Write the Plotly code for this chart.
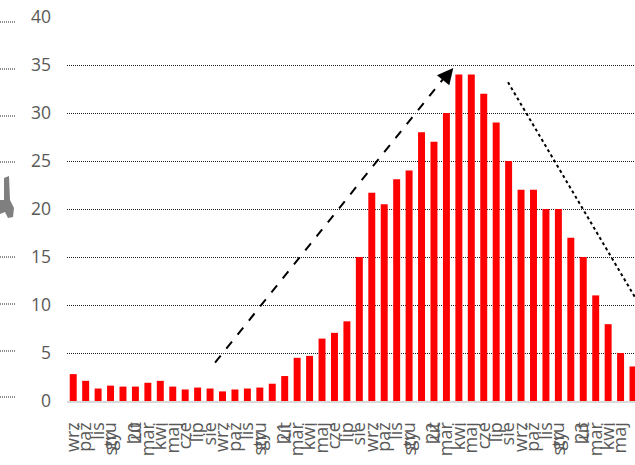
import plotly.graph_objects as go

months = ["wrz", "paź", "lis", "gru", "sty\u00a0\u00a0<br>20", "lut", "mar", "kwi", "maj", "cze", "lip", "sie",
          "wrz", "paź", "lis", "gru", "sty\u00a0\u00a0<br>21", "lut", "mar", "kwi", "maj", "cze", "lip", "sie",
          "wrz", "paź", "lis", "gru", "sty\u00a0\u00a0<br>22", "lut", "mar", "kwi", "maj", "cze", "lip", "sie",
          "wrz", "paź", "lis", "gru", "sty\u00a0\u00a0<br>23", "lut", "mar", "kwi", "maj", "cze"]
values = [2.8, 2.1, 1.3, 1.6, 1.5, 1.5, 1.9, 2.1, 1.5, 1.2, 1.4, 1.3,
          1.0, 1.2, 1.3, 1.4, 1.8, 2.6, 4.5, 4.7, 6.5, 7.1, 8.3, 15.0,
          21.7, 20.5, 23.1, 24.0, 28.0, 27.0, 30.0, 34.0, 34.0, 32.0, 29.0, 25.0,
          22.0, 22.0, 20.0, 20.0, 17.0, 15.0, 11.0, 8.0, 5.0, 3.6]
y_ticks = [0, 5, 10, 15, 20, 25, 30, 35, 40]
title_text = "Dynamika cen w gospodarce ogółem, wzrost r/r (%)"

W, H = 635, 465
ML, MR, MT, MB = 67, 0, 17, 64
PW, PH = W - ML - MR, H - MT - MB
n = len(values)
xs = list(range(n))

fig = go.Figure()
fig.add_trace(go.Bar(x=xs, y=values, marker=dict(color="#ff0000", line=dict(width=0)),
                     width=0.56, hoverinfo="skip"))

def px2x(px):
    return (px - ML) / PW

def py2y(py):
    return 1 - (py - MT) / PH

shapes = []
# rising trend (dashed)
shapes.append(dict(type="line", xref="x", yref="y", x0=11.4, y0=4.0, x1=30.2, y1=34.3,
                   line=dict(color="black", width=2, dash="dash")))
# falling trend (dotted)
shapes.append(dict(type="line", xref="x", yref="y", x0=34.95, y0=33.2, x1=45.3, y1=10.5,
                   line=dict(color="black", width=2, dash="dot")))
# neighbouring chart fragments on the left
for py in [22, 69, 116, 162, 257, 304, 351, 397]:
    shapes.append(dict(type="line", xref="paper", yref="paper", x0=px2x(0), x1=px2x(15),
                       y0=py2y(py), y1=py2y(py), line=dict(color="#222", width=1, dash="1px,1px")))
shapes.append(dict(type="path", xref="paper", yref="paper", fillcolor="#7f7f7f", line=dict(width=0),
                   path=" ".join([
                       f"M {px2x(4)} {py2y(178)}", f"L {px2x(9)} {py2y(176)}", f"L {px2x(10)} {py2y(200)}",
                       f"L {px2x(14)} {py2y(208)}", f"L {px2x(13)} {py2y(217)}", f"L {px2x(8)} {py2y(218)}",
                       f"L {px2x(5)} {py2y(212)}", f"L {px2x(0)} {py2y(214)}", f"L {px2x(0)} {py2y(200)}",
                       f"L {px2x(4)} {py2y(200)} Z"])))

annotations = [
    dict(x=30.55, y=34.7, xref="x", yref="y", ax=-9, ay=11, axref="pixel", ayref="pixel",
         text="", showarrow=True, arrowhead=2, arrowsize=1.6, arrowwidth=2, arrowcolor="black"),
    dict(x=px2x(-8), y=py2y(-2), xref="paper", yref="paper", xanchor="left", yanchor="bottom",
         text="<b>" + title_text + "</b>", showarrow=False,
         font=dict(size=22, color="black", family="Open Sans")),
]

fig.update_layout(
    width=W, height=H, margin=dict(l=ML, r=MR, t=MT, b=MB, autoexpand=False),
    paper_bgcolor="white", plot_bgcolor="white", showlegend=False,
    font=dict(family="Open Sans", color="#595959"),
    shapes=shapes, annotations=annotations,
    xaxis=dict(range=[-0.5, -0.5 + PW / 12.44], tickmode="array", tickvals=xs, ticktext=months,
               tickangle=-90, tickfont=dict(size=18, color="#595959"), showgrid=False, zeroline=False,
               showline=True, linecolor="#d9d9d9", linewidth=2, ticks="", automargin=False,
               ticklabelstandoff=12),
    yaxis=dict(range=[0, 40], tickvals=y_ticks, tickfont=dict(size=17.5, color="#595959"),
               showgrid=True, gridcolor="#222", griddash="1px,1px", gridwidth=1, zeroline=False,
               ticklabelstandoff=15, automargin=False),
)

fig.write_html("out.html")
